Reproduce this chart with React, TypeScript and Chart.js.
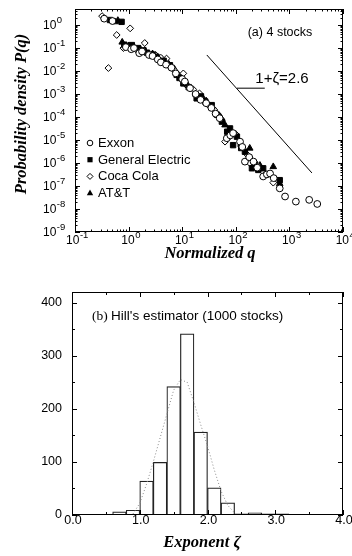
import React, { useEffect, useRef } from 'react';
import { Chart, registerables } from 'chart.js';

Chart.register(...registerables);

const SANS = '"Liberation Sans", Arial, Helvetica, sans-serif';
const SERIF = '"Liberation Serif", "Times New Roman", Times, serif';

// ---------- Panel (a): probability density of normalized q ----------
const seriesNames = ['Exxon', 'General Electric', 'Coca Cola', 'AT&T'];
const qTickExps = [-1, 0, 1, 2, 3, 4];
const pTickExps = [0, -1, -2, -3, -4, -5, -6, -7, -8, -9];

const exxonQ = [0.35, 0.5, 0.89, 1.12, 1.26, 1.58, 1.78, 2.4, 2.8, 3.5, 4.0, 5.0, 6.3, 7.6, 10, 11.2, 14, 17.8, 22, 28, 35, 42, 50, 68, 79, 89, 120, 132, 148, 178, 214, 251, 324, 380, 436, 510, 660, 830, 1320, 2340, 3310];
const exxonP = [1.9, 1.5, 0.11, 0.089, 0.1, 0.06, 0.071, 0.05, 0.045, 0.032, 0.024, 0.019, 0.014, 7.9e-3, 4.5e-3, 3.5e-3, 1.8e-3, 1.0e-3, 5.6e-4, 4.0e-4, 2.5e-4, 1.4e-4, 8.9e-5, 1.2e-5, 1.6e-5, 2.0e-5, 8.5e-6, 5.0e-6, 1.15e-6, 1.8e-6, 1.15e-6, 6.3e-7, 2.6e-7, 3.2e-7, 3.5e-7, 2.2e-7, 7.9e-8, 3.5e-8, 2.1e-8, 2.5e-8, 1.66e-8];

const geQ = [0.45, 0.74, 0.83, 1.15, 1.5, 1.9, 2.2, 2.8, 3.3, 4.5, 5.9, 7.9, 8.9, 10.5, 13.2, 18.6, 22.4, 27, 35.5, 44.7, 55, 69, 78, 89, 105, 126, 148, 200, 224, 263, 324, 660];
const geP = [1.66, 1.38, 0.14, 0.135, 0.1, 0.079, 0.063, 0.052, 0.042, 0.028, 0.018, 6.8e-3, 5.0e-3, 2.9e-3, 2.0e-3, 6.5e-4, 7.9e-4, 4.7e-4, 3.3e-4, 1.26e-4, 6.3e-5, 2.3e-5, 3.2e-5, 6.0e-6, 1.4e-5, 4.5e-6, 3.1e-6, 5.9e-7, 8.9e-7, 5.0e-7, 5.9e-7, 1.8e-7];

const cocaQ = [0.32, 0.36, 0.6, 1.07, 0.42, 0.8, 1.41, 2.0, 3.2, 4.0, 5.1, 7.1, 10.5, 12.6, 16, 21, 30, 40, 55, 63, 76, 100, 126, 158, 182, 251, 355, 500];
const cocaP = [2.45, 1.95, 0.37, 0.72, 0.0135, 0.1, 0.083, 0.166, 0.05, 0.038, 0.035, 0.011, 7.9e-3, 2.2e-3, 1.6e-3, 1.07e-3, 3.5e-4, 2.0e-4, 7.4e-5, 8.5e-6, 1.4e-5, 1.8e-5, 5.6e-6, 2.5e-6, 1.0e-6, 8.0e-7, 3.2e-7, 1.4e-7];

const attQ = [0.56, 0.63, 0.76, 1.0, 1.26, 1.66, 2.0, 2.8, 3.5, 4.2, 5.6, 7.1, 9.5, 12.6, 17.8, 24, 28, 42, 52, 63, 93, 126, 182, 282, 500, 660];
const attP = [1.38, 1.58, 0.18, 0.126, 0.11, 0.089, 0.079, 0.056, 0.038, 0.032, 0.02, 0.0126, 5.6e-3, 2.5e-3, 1.0e-3, 7.1e-4, 5.0e-4, 1.8e-4, 1.0e-4, 4.5e-5, 1.8e-5, 6.3e-6, 4.4e-6, 7.9e-7, 6.9e-7, 1.26e-7];

// guide line with slope -(1+zeta) = -2.6, and the short leader to its label
const refLineQ = [28.8, 2630];
const refLineP = [5.0e-2, 3.7e-7];
const leaderQ = [105, 347];
const leaderP = [1.8e-3, 1.8e-3];

// ---------- Panel (b): Hill's estimator histogram ----------
const binCenters = [0.5, 0.7, 0.9, 1.1, 1.3, 1.5, 1.7, 1.9, 2.1, 2.3, 2.5, 2.7, 2.9, 3.1, 3.3];
const binCounts = [1, 6, 9, 64, 99, 242, 341, 156, 51, 23, 2, 4, 2, 2, 1];
const fitZeta = [0.9, 1.0, 1.1, 1.2, 1.3, 1.4, 1.5, 1.6, 1.7, 1.8, 1.9, 2.0, 2.1, 2.2, 2.3, 2.4];
const fitCounts = [2, 22, 58, 100, 145, 190, 235, 255, 250, 212, 170, 130, 85, 45, 18, 4];
const zetaTicks = [0, 1, 2, 3, 4];
const countTicks = [0, 100, 200, 300, 400];

const pts = (xs: number[], ys: number[]) => xs.map((x, i) => ({ x, y: ys[i] }));

function seg(ctx: CanvasRenderingContext2D, x1: number, y1: number, x2: number, y2: number) {
  ctx.beginPath();
  ctx.moveTo(x1, y1);
  ctx.lineTo(x2, y2);
  ctx.stroke();
}

function marker(ctx: CanvasRenderingContext2D, kind: string, x: number, y: number) {
  ctx.beginPath();
  if (kind === 'circle') {
    ctx.arc(x, y, 2.8, 0, Math.PI * 2);
    ctx.fillStyle = '#fff';
    ctx.fill();
    ctx.stroke();
  } else if (kind === 'rect') {
    ctx.rect(x - 2.6, y - 2.6, 5.2, 5.2);
    ctx.fillStyle = '#000';
    ctx.fill();
  } else if (kind === 'rectRot') {
    ctx.moveTo(x - 3, y);
    ctx.lineTo(x, y - 3);
    ctx.lineTo(x + 3, y);
    ctx.lineTo(x, y + 3);
    ctx.closePath();
    ctx.fillStyle = '#fff';
    ctx.fill();
    ctx.stroke();
  } else {
    ctx.moveTo(x, y - 3.6);
    ctx.lineTo(x + 3.2, y + 2.2);
    ctx.lineTo(x - 3.2, y + 2.2);
    ctx.closePath();
    ctx.fillStyle = '#000';
    ctx.fill();
  }
}

const hiddenAxis = (extra: any) => ({
  ...extra,
  ticks: { display: false },
  grid: { display: false, drawTicks: false },
  border: { display: false },
  title: { display: false },
});

const topDecor = {
  id: 'topDecor',
  afterDraw(chart: any) {
    const { ctx, chartArea: a, scales } = chart;
    const xs = scales.x;
    const ys = scales.y;
    ctx.save();
    ctx.strokeStyle = '#000';
    ctx.fillStyle = '#000';
    ctx.lineWidth = 1;
    ctx.strokeRect(a.left + 0.5, a.top + 0.5, a.right - a.left - 1, a.bottom - a.top - 1);

    // log ticks, pointing inward on all four sides
    for (let e = qTickExps[0]; e <= qTickExps[qTickExps.length - 1]; e++) {
      for (let m = 1; m <= 9; m++) {
        const v = m * Math.pow(10, e);
        if (v > xs.max * 1.0001) break;
        const px = Math.round(xs.getPixelForValue(v)) + 0.5;
        const len = m === 1 ? 5 : 2.5;
        seg(ctx, px, a.bottom, px, a.bottom - len);
        seg(ctx, px, a.top, px, a.top + len);
      }
    }
    for (let e = pTickExps[pTickExps.length - 1]; e <= pTickExps[0]; e++) {
      for (let m = 1; m <= 9; m++) {
        const v = m * Math.pow(10, e);
        if (v > ys.max * 1.0001) break;
        const py = Math.round(ys.getPixelForValue(v)) + 0.5;
        const len = m === 1 ? 5 : 2.5;
        seg(ctx, a.left, py, a.left + len, py);
        seg(ctx, a.right, py, a.right - len, py);
      }
    }

    // tick labels 10^n
    ctx.textBaseline = 'middle';
    ctx.textAlign = 'left';
    for (const e of qTickExps) {
      const px = xs.getPixelForValue(Math.pow(10, e));
      ctx.font = `12px ${SANS}`;
      const w1 = ctx.measureText('10').width;
      ctx.font = `9.5px ${SANS}`;
      const ex = String(e);
      const w2 = ctx.measureText(ex).width;
      const x0 = px - (w1 + w2) / 2 + 2;
      ctx.font = `12px ${SANS}`;
      ctx.fillText('10', x0, a.bottom + 9);
      ctx.font = `9.5px ${SANS}`;
      ctx.fillText(ex, x0 + w1 + 0.5, a.bottom + 3);
    }
    for (const e of pTickExps) {
      const py = ys.getPixelForValue(Math.pow(10, e));
      ctx.font = `12px ${SANS}`;
      const w1 = ctx.measureText('10').width;
      ctx.fillText('10', 43, py + 1);
      ctx.font = `9.5px ${SANS}`;
      ctx.fillText(String(e), 43 + w1 + 0.5, py - 5);
    }

    // axis titles
    ctx.font = `bold italic 16.5px ${SERIF}`;
    ctx.textAlign = 'center';
    ctx.fillText('Normalized q', 210, a.bottom + 22);
    ctx.save();
    ctx.translate(22, 114);
    ctx.rotate(-Math.PI / 2);
    ctx.fillText('Probability density P(q)', 0, 0);
    ctx.restore();

    // annotations
    ctx.font = `12.5px ${SANS}`;
    ctx.fillText('(a) 4 stocks', 280, 33);
    ctx.font = `15px ${SANS}`;
    ctx.fillText('1+\u03B6=2.6', 282, 79);

    // legend
    const kinds = ['circle', 'rect', 'rectRot', 'triangle'];
    ctx.textAlign = 'left';
    ctx.font = `13px ${SANS}`;
    seriesNames.forEach((name, i) => {
      const y = 143 + i * 16.7;
      marker(ctx, kinds[i], 90, y);
      ctx.fillStyle = '#000';
      ctx.fillText(name, 98, y + 0.5);
    });
    ctx.restore();
  },
};

const botDecor = {
  id: 'botDecor',
  afterDraw(chart: any) {
    const { ctx, chartArea: a, scales } = chart;
    const xs = scales.x;
    const ys = scales.y;
    ctx.save();
    ctx.strokeStyle = '#000';
    ctx.fillStyle = '#000';
    ctx.lineWidth = 1;
    ctx.strokeRect(a.left + 0.5, a.top + 0.5, a.right - a.left - 1, a.bottom - a.top - 1);

    for (let v = zetaTicks[0]; v <= zetaTicks[zetaTicks.length - 1] + 1e-9; v += 0.5) {
      const px = Math.round(xs.getPixelForValue(v)) + 0.5;
      const len = Math.abs(v - Math.round(v)) < 1e-6 ? 5 : 3;
      seg(ctx, px, a.bottom, px, a.bottom - len);
      seg(ctx, px, a.top, px, a.top + len);
    }
    for (let v = countTicks[0]; v <= ys.max; v += 50) {
      const py = Math.round(ys.getPixelForValue(v)) + 0.5;
      const len = v % 100 === 0 ? 5 : 3;
      seg(ctx, a.left, py, a.left + len, py);
      seg(ctx, a.right, py, a.right - len, py);
    }

    ctx.font = `12.5px ${SANS}`;
    ctx.textBaseline = 'middle';
    ctx.textAlign = 'center';
    for (const v of zetaTicks) {
      ctx.fillText(v.toFixed(1), xs.getPixelForValue(v) + 1, a.bottom + 6);
    }
    ctx.textAlign = 'right';
    for (const v of countTicks) {
      ctx.fillText(String(v), 62, ys.getPixelForValue(v));
    }

    ctx.font = `bold italic 16.5px ${SERIF}`;
    ctx.textAlign = 'center';
    ctx.fillText('Exponent \u03B6', 202, a.bottom + 28);
    ctx.save();
    ctx.translate(22, 400);
    ctx.rotate(-Math.PI / 2);
    ctx.fillText('Number of stocks', 0, 0);
    ctx.restore();

    ctx.textAlign = 'left';
    ctx.font = `13.5px ${SERIF}`;
    const wb = ctx.measureText('(b) ').width;
    ctx.fillText('(b) ', 92, a.top + 24);
    ctx.font = `13.5px ${SANS}`;
    ctx.fillText("Hill's estimator (1000 stocks)", 92 + wb, a.top + 24);
    ctx.restore();
  },
};

export default function App() {
  const topRef = useRef<HTMLCanvasElement>(null);
  const botRef = useRef<HTMLCanvasElement>(null);

  useEffect(() => {
    const scatterBase = { type: 'scatter' as const, showLine: false, borderColor: '#000', pointBorderWidth: 1 };
    const top = new Chart(topRef.current as HTMLCanvasElement, {
      type: 'scatter',
      data: {
        datasets: [
          { ...scatterBase, label: seriesNames[0], data: pts(exxonQ, exxonP), pointStyle: 'circle', pointRadius: 3.4, backgroundColor: '#fff' },
          { ...scatterBase, label: seriesNames[1], data: pts(geQ, geP), pointStyle: 'rect', pointRadius: 3.8, backgroundColor: '#000' },
          { ...scatterBase, label: seriesNames[2], data: pts(cocaQ, cocaP), pointStyle: 'rectRot', pointRadius: 3.4, backgroundColor: '#fff' },
          { ...scatterBase, label: seriesNames[3], data: pts(attQ, attP), pointStyle: 'triangle', pointRadius: 3.8, backgroundColor: '#000' },
          { type: 'line', label: 'slope', data: pts(refLineQ, refLineP), borderColor: '#000', borderWidth: 1, pointRadius: 0, fill: false },
          { type: 'line', label: 'leader', data: pts(leaderQ, leaderP), borderColor: '#000', borderWidth: 1, pointRadius: 0, fill: false },
        ] as any,
      },
      options: {
        responsive: false,
        animation: false,
        devicePixelRatio: 1,
        layout: { padding: { left: 75, top: 9, right: 9, bottom: 30 } },
        plugins: { legend: { display: false }, tooltip: { enabled: false } },
        events: [],
        scales: {
          x: hiddenAxis({ type: 'logarithmic', min: 0.1, max: 10000, afterFit: (s: any) => { s.height = 0; } }),
          y: hiddenAxis({ type: 'logarithmic', min: 1e-9, max: 5, afterFit: (s: any) => { s.width = 0; } }),
        },
      } as any,
      plugins: [topDecor],
    });

    const bot = new Chart(botRef.current as HTMLCanvasElement, {
      type: 'bar',
      data: {
        datasets: [
          { type: 'line', label: 'fit', data: pts(fitZeta, fitCounts), borderColor: '#8a8a8a', borderWidth: 1, borderDash: [1, 2.2], pointRadius: 0, fill: false, order: 0 },
          { type: 'bar', label: 'count', data: pts(binCenters, binCounts), backgroundColor: '#fff', borderColor: '#222', borderWidth: 1.2, barPercentage: 1, categoryPercentage: 1, order: 1 },
        ] as any,
      },
      options: {
        responsive: false,
        animation: false,
        devicePixelRatio: 1,
        layout: { padding: { left: 72, top: 30, right: 9, bottom: 41 } },
        plugins: { legend: { display: false }, tooltip: { enabled: false } },
        events: [],
        scales: {
          x: hiddenAxis({ type: 'linear', min: 0, max: 4, offset: false, afterFit: (s: any) => { s.height = 0; } }),
          y: hiddenAxis({ type: 'linear', min: 0, max: 420, afterFit: (s: any) => { s.width = 0; } }),
        },
      } as any,
      plugins: [botDecor],
    });

    return () => {
      top.destroy();
      bot.destroy();
    };
  }, []);

  return (
    <div style={{ position: 'absolute', left: 0, top: 0, width: 352, height: 556, background: '#fff' }}>
      <canvas ref={topRef} width={352} height={262} style={{ position: 'absolute', left: 0, top: 0, width: 352, height: 262 }} />
      <canvas ref={botRef} width={352} height={294} style={{ position: 'absolute', left: 0, top: 262, width: 352, height: 294 }} />
    </div>
  );
}
